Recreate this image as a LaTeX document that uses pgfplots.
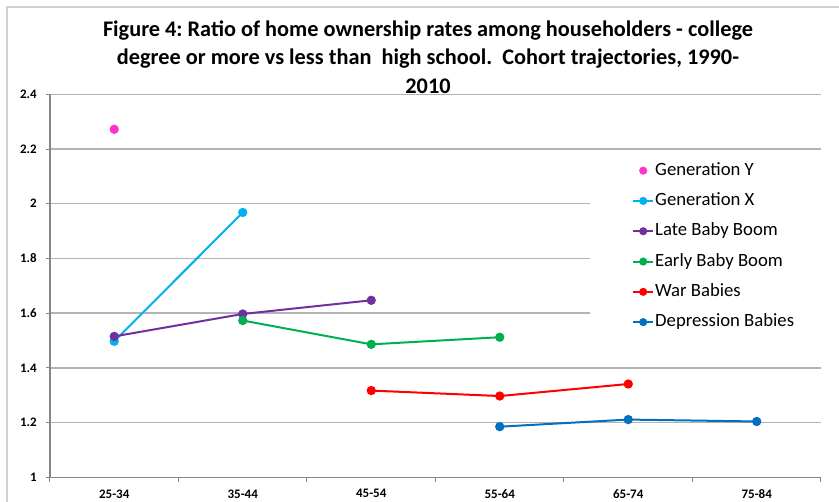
\documentclass[border=0pt]{standalone}
\usepackage{fontspec}
\setmainfont{Carlito}
\usepackage{pgfplots}
\pgfplotsset{compat=1.18}
\usetikzlibrary{calc}
\definecolor{genY}{HTML}{FF33CC}
\definecolor{genX}{HTML}{00B0F0}
\definecolor{lateBB}{HTML}{7030A0}
\definecolor{earlyBB}{HTML}{00B050}
\definecolor{warB}{HTML}{FF0000}
\definecolor{depB}{HTML}{0070C0}
\definecolor{gridc}{HTML}{B3B3B3}
\definecolor{axisc}{HTML}{868686}
\definecolor{framec}{HTML}{D0D0D0}
\frenchspacing
\begin{document}
\begin{tikzpicture}
\begin{axis}[
  scale only axis, width=771pt, height=383pt,
  xmin=0, xmax=6, ymin=1, ymax=2.4,
  axis x line=bottom, axis y line=left,
  axis line style={-, axisc, line width=1.2pt},
  xtick={0.5,1.5,2.5,3.5,4.5,5.5},
  xticklabels={25-34,35-44,45-54,55-64,65-74,75-84},
  minor xtick={0,1,2,3,4,5,6},
  major x tick style={draw=none},
  minor x tick style={axisc, line width=1pt},
  ytick={1,1.2,1.4,1.6,1.8,2,2.2,2.4},
  yticklabels={1,1.2,1.4,1.6,1.8,2,2.2,2.4},
  y tick style={axisc, line width=1pt},
  tick align=outside,
  major tick length=4pt, minor tick length=5pt,
  ymajorgrids,
  grid style={gridc, line width=1.3pt},
  xticklabel style={font=\bfseries\fontsize{13}{13}\selectfont, inner sep=0pt, yshift=-8pt},
  yticklabel style={font=\bfseries\fontsize{13}{13}\selectfont, inner sep=0pt, xshift=-9pt},
  every axis plot/.append style={line width=2pt, mark=*, mark size=3.6pt},
  legend image code/.code={\draw[mark repeat=2,mark phase=2,mark size=3pt] plot coordinates {(0pt,0pt)(10pt,0pt)(20pt,0pt)};},
  legend style={at={(0.7004,0.839)}, anchor=north west, fill=white, draw=none,
    inner xsep=42pt, inner ysep=6pt, row sep=13.3pt, column sep=1pt,
    font=\fontsize{18.7}{22}\selectfont,
    nodes={inner sep=0pt, text height=13pt, text depth=4pt},
    cells={anchor=west}},
  legend cell align=left,
  clip=false,
]
\addplot[genY, only marks] coordinates {(0.5,2.272)};
\addlegendentry{Generation Y}
\addplot[genX] coordinates {(0.5,1.497) (1.5,1.968)};
\addlegendentry{Generation X}
\addplot[lateBB] coordinates {(0.5,1.515) (1.5,1.597) (2.5,1.647)};
\addlegendentry{Late Baby Boom}
\addplot[earlyBB] coordinates {(1.5,1.573) (2.5,1.486) (3.5,1.512)};
\addlegendentry{Early Baby Boom}
\addplot[warB] coordinates {(2.5,1.317) (3.5,1.297) (4.5,1.341)};
\addlegendentry{War Babies}
\addplot[depB] coordinates {(3.5,1.185) (4.5,1.211) (5.5,1.204)};
\addlegendentry{Depression Babies}
\coordinate (SW) at (rel axis cs:0,0);
\end{axis}
\pgfresetboundingbox
\path[use as bounding box] ($(SW)+(-50pt,-24.7pt)$) rectangle ($(SW)+(789pt,477.3pt)$);
\draw[framec, line width=1.5pt] ($(SW)+(-43pt,-30pt)$) -- ($(SW)+(-43pt,470.3pt)$) -- ($(SW)+(800pt,470.3pt)$);
\node[align=center, anchor=north, inner sep=0pt, font=\bfseries\fontsize{22.3}{28.6}\selectfont] at ($(SW)+(378pt,457pt)$)
{Figure 4: Ratio of home ownership rates among householders - college\\
degree or more vs less than\ \ high school.\ \ Cohort trajectories, 1990-\\
2010};
\end{tikzpicture}
\end{document}
